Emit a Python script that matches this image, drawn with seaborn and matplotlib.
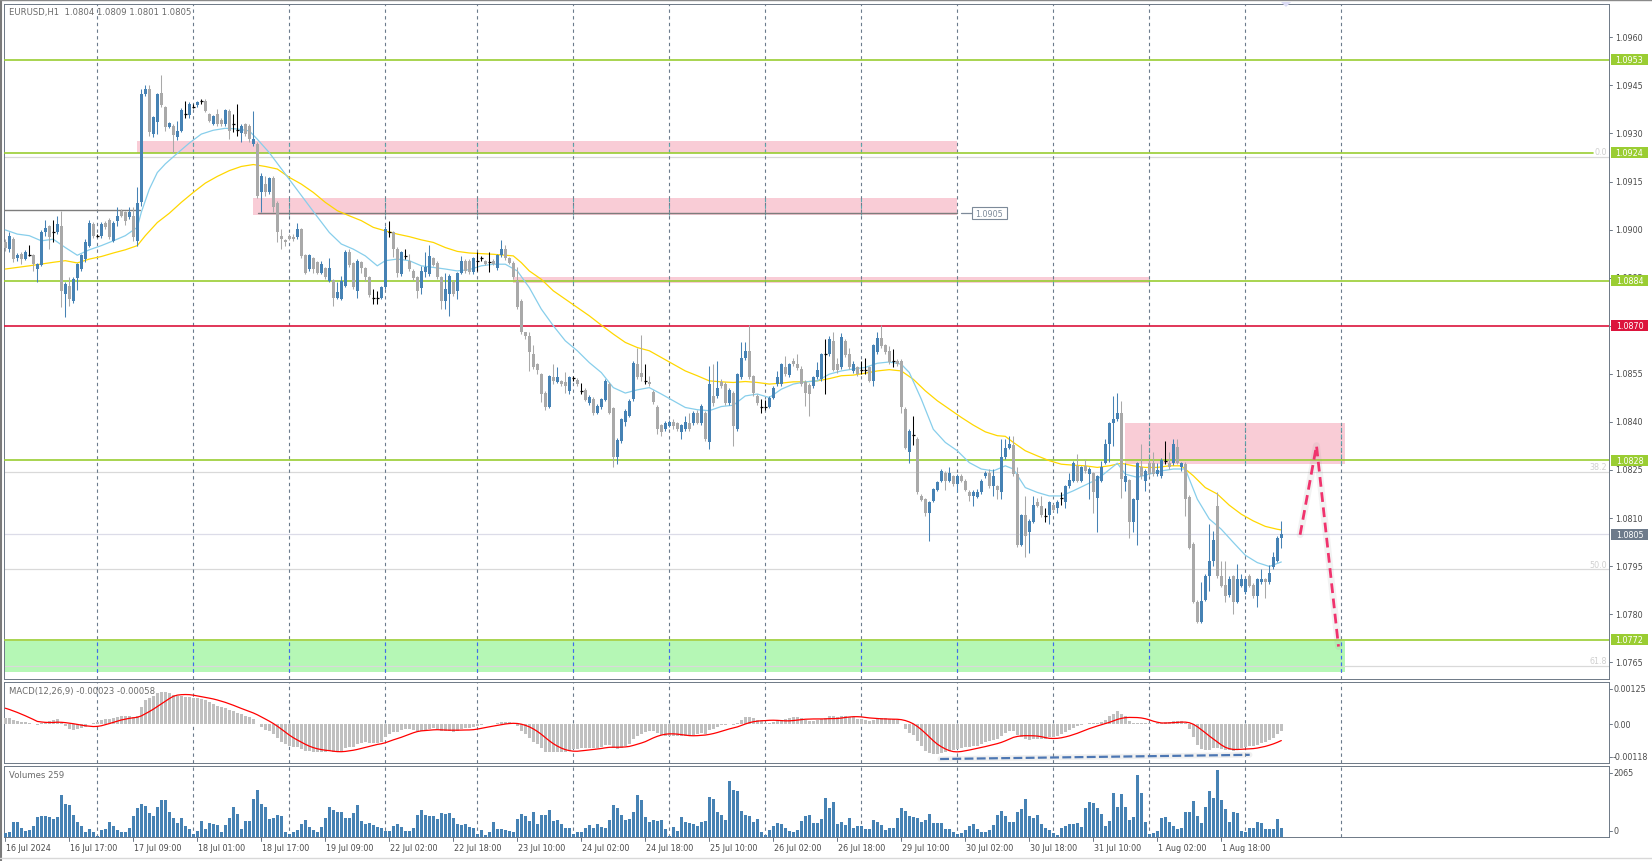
import numpy as np
import pandas as pd
import matplotlib
matplotlib.use("Agg")
import matplotlib.pyplot as plt
import matplotlib.transforms as mtransforms
from matplotlib.patches import Rectangle, Polygon
import seaborn as sns

# ---------------- data (EURUSD H1) ----------------
bar_start = -23          # first visible bar; bar 0 = 17 Jul 00:00

opens = [
    1.08962, 1.08939, 1.08970, 1.08910, 1.08924, 1.08908, 1.08920, 1.08920, 1.08877, 1.08889,
    1.08991, 1.09012, 1.08991, 1.08991, 1.09012, 1.08799, 1.08825, 1.08778, 1.08848, 1.08877,
    1.08908, 1.08950, 1.09019, 1.08981, 1.08979, 1.09022, 1.09030, 1.08965, 1.09026, 1.09059,
    1.09054, 1.09038, 1.09043, 1.08965, 1.09085, 1.09423, 1.09440, 1.09298, 1.09336, 1.09425,
    1.09381, 1.09321, 1.09324, 1.09288, 1.09308, 1.09360, 1.09357, 1.09381, 1.09388, 1.09400,
    1.09402, 1.09360, 1.09329, 1.09360, 1.09342, 1.09329, 1.09371, 1.09330, 1.09310, 1.09301,
    1.09329, 1.09324, 1.09267, 1.09267, 1.09118, 1.09142, 1.09118, 1.09161, 1.09083, 1.08981,
    1.08968, 1.08981, 1.08978, 1.08976, 1.09002, 1.08920, 1.08877, 1.08910, 1.08898, 1.08866,
    1.08879, 1.08840, 1.08842, 1.08788, 1.08785, 1.08825, 1.08931, 1.08895, 1.08809, 1.08900,
    1.08879, 1.08851, 1.08788, 1.08788, 1.08788, 1.08822, 1.08991, 1.08991, 1.08941, 1.08861,
    1.08918, 1.08903, 1.08872, 1.08851, 1.08819, 1.08868, 1.08861, 1.08910, 1.08897, 1.08851,
    1.08778, 1.08799, 1.08837, 1.08809, 1.08866, 1.08903, 1.08903, 1.08868, 1.08901, 1.08910,
    1.08903, 1.08899, 1.08903, 1.08879, 1.08920, 1.08941, 1.08910, 1.08897, 1.08840, 1.08778,
    1.08679, 1.08669, 1.08611, 1.08580, 1.08549, 1.08490, 1.08448, 1.08539, 1.08525, 1.08528,
    1.08523, 1.08497, 1.08537, 1.08532, 1.08497, 1.08500, 1.08459, 1.08473, 1.08429, 1.08445,
    1.08469, 1.08518, 1.08442, 1.08290, 1.08341, 1.08400, 1.08419, 1.08471, 1.08580, 1.08552,
    1.08528, 1.08523, 1.08494, 1.08448, 1.08390, 1.08377, 1.08388, 1.08400, 1.08396, 1.08367,
    1.08377, 1.08396, 1.08396, 1.08429, 1.08396, 1.08429, 1.08338, 1.08481, 1.08481, 1.08525,
    1.08518, 1.08459, 1.08490, 1.08377, 1.08539, 1.08598, 1.08622, 1.08542, 1.08481, 1.08448,
    1.08448, 1.08448, 1.08476, 1.08518, 1.08518, 1.08570, 1.08546, 1.08589, 1.08580, 1.08565,
    1.08525, 1.08515, 1.08511, 1.08539, 1.08533, 1.08611, 1.08611, 1.08653, 1.08580, 1.08570,
    1.08653, 1.08611, 1.08559, 1.08570, 1.08561, 1.08561, 1.08570, 1.08528, 1.08617, 1.08663,
    1.08639, 1.08622, 1.08589, 1.08591, 1.08591, 1.08440, 1.08307, 1.08359, 1.08348, 1.08169,
    1.08159, 1.08117, 1.08154, 1.08188, 1.08216, 1.08242, 1.08216, 1.08230, 1.08206, 1.08232,
    1.08216, 1.08182, 1.08169, 1.08167, 1.08180, 1.08230, 1.08240, 1.08199, 1.08199, 1.08180,
    1.08289, 1.08320, 1.08327, 1.08237, 1.08017, 1.08109, 1.08057, 1.08088, 1.08149, 1.08138,
    1.08107, 1.08109, 1.08140, 1.08130, 1.08161, 1.08149, 1.08199, 1.08216, 1.08261, 1.08216,
    1.08263, 1.08237, 1.08240, 1.08164, 1.08216, 1.08273, 1.08331, 1.08398, 1.08409, 1.08429,
    1.08213, 1.08218, 1.08088, 1.08157, 1.08258, 1.08216, 1.08271, 1.08271, 1.08237, 1.08230,
    1.08277, 1.08271, 1.08271, 1.08322, 1.08258, 1.08270, 1.08167, 1.08019, 1.07839, 1.07776,
    1.07845, 1.07920, 1.07967, 1.08138, 1.07918, 1.07891, 1.07859, 1.07918, 1.07839, 1.07889,
    1.07868, 1.07918, 1.07891, 1.07857, 1.07899, 1.07909, 1.07899, 1.07946, 1.07967, 1.08039,
]
highs = [
    1.08970, 1.08991, 1.08976, 1.08926, 1.08930, 1.08936, 1.08952, 1.08925, 1.08896, 1.08998,
    1.09030, 1.09015, 1.09030, 1.09043, 1.09059, 1.08835, 1.08851, 1.08851, 1.08896, 1.08925,
    1.08970, 1.09030, 1.09025, 1.08985, 1.09025, 1.09028, 1.09035, 1.09028, 1.09069, 1.09065,
    1.09058, 1.09069, 1.09069, 1.09134, 1.09440, 1.09451, 1.09451, 1.09355, 1.09425, 1.09482,
    1.09386, 1.09336, 1.09328, 1.09340, 1.09378, 1.09402, 1.09399, 1.09392, 1.09402, 1.09409,
    1.09406, 1.09365, 1.09358, 1.09376, 1.09347, 1.09376, 1.09376, 1.09360, 1.09392, 1.09328,
    1.09334, 1.09328, 1.09371, 1.09272, 1.09178, 1.09168, 1.09165, 1.09168, 1.09088, 1.09002,
    1.08972, 1.08985, 1.08985, 1.09020, 1.09006, 1.08924, 1.08925, 1.08915, 1.08903, 1.08903,
    1.08884, 1.08910, 1.08846, 1.08835, 1.08856, 1.08936, 1.08939, 1.08900, 1.08908, 1.08903,
    1.08884, 1.08856, 1.08816, 1.08809, 1.08825, 1.09010, 1.09028, 1.08996, 1.08946, 1.08934,
    1.08941, 1.08924, 1.08877, 1.08856, 1.08887, 1.08929, 1.08951, 1.08915, 1.08902, 1.08856,
    1.08864, 1.08861, 1.08842, 1.08868, 1.08918, 1.08907, 1.08908, 1.08915, 1.08929, 1.08918,
    1.08906, 1.08929, 1.08907, 1.08925, 1.08968, 1.08951, 1.08914, 1.08901, 1.08882, 1.08783,
    1.08681, 1.08681, 1.08639, 1.08585, 1.08553, 1.08495, 1.08547, 1.08580, 1.08570, 1.08532,
    1.08556, 1.08544, 1.08544, 1.08537, 1.08521, 1.08505, 1.08484, 1.08478, 1.08455, 1.08476,
    1.08533, 1.08523, 1.08447, 1.08350, 1.08412, 1.08440, 1.08470, 1.08591, 1.08632, 1.08671,
    1.08580, 1.08544, 1.08499, 1.08453, 1.08395, 1.08403, 1.08405, 1.08409, 1.08401, 1.08395,
    1.08419, 1.08429, 1.08435, 1.08438, 1.08455, 1.08434, 1.08575, 1.08580, 1.08591, 1.08533,
    1.08523, 1.08505, 1.08495, 1.08554, 1.08650, 1.08650, 1.08702, 1.08547, 1.08486, 1.08471,
    1.08469, 1.08481, 1.08512, 1.08559, 1.08585, 1.08606, 1.08585, 1.08598, 1.08611, 1.08575,
    1.08530, 1.08520, 1.08544, 1.08587, 1.08616, 1.08660, 1.08669, 1.08679, 1.08598, 1.08676,
    1.08658, 1.08632, 1.08591, 1.08575, 1.08591, 1.08598, 1.08575, 1.08644, 1.08679, 1.08702,
    1.08644, 1.08637, 1.08629, 1.08595, 1.08595, 1.08445, 1.08377, 1.08419, 1.08353, 1.08174,
    1.08164, 1.08154, 1.08195, 1.08216, 1.08253, 1.08247, 1.08258, 1.08235, 1.08237, 1.08237,
    1.08221, 1.08187, 1.08187, 1.08190, 1.08221, 1.08247, 1.08253, 1.08253, 1.08204, 1.08348,
    1.08348, 1.08357, 1.08357, 1.08258, 1.08114, 1.08169, 1.08096, 1.08169, 1.08161, 1.08169,
    1.08130, 1.08154, 1.08145, 1.08156, 1.08180, 1.08204, 1.08242, 1.08279, 1.08299, 1.08263,
    1.08284, 1.08258, 1.08245, 1.08235, 1.08279, 1.08348, 1.08400, 1.08481, 1.08489, 1.08466,
    1.08273, 1.08223, 1.08164, 1.08276, 1.08331, 1.08252, 1.08284, 1.08307, 1.08273, 1.08286,
    1.08339, 1.08305, 1.08348, 1.08348, 1.08276, 1.08275, 1.08172, 1.08024, 1.07844, 1.07899,
    1.07925, 1.08081, 1.08060, 1.08180, 1.07967, 1.07967, 1.07920, 1.07923, 1.07956, 1.07925,
    1.07914, 1.07925, 1.07896, 1.07914, 1.07941, 1.07914, 1.07953, 1.07993, 1.08044, 1.08091,
]
lows = [
    1.08934, 1.08929, 1.08898, 1.08902, 1.08892, 1.08904, 1.08917, 1.08872, 1.08837, 1.08885,
    1.08981, 1.08941, 1.08960, 1.08985, 1.08760, 1.08726, 1.08762, 1.08770, 1.08812, 1.08870,
    1.08898, 1.08945, 1.08975, 1.08978, 1.08975, 1.09003, 1.08972, 1.08960, 1.09012, 1.09038,
    1.09014, 1.09034, 1.08965, 1.08950, 1.09074, 1.09418, 1.09293, 1.09290, 1.09298, 1.09381,
    1.09308, 1.09316, 1.09239, 1.09279, 1.09303, 1.09347, 1.09347, 1.09379, 1.09384, 1.09392,
    1.09366, 1.09335, 1.09325, 1.09324, 1.09324, 1.09324, 1.09282, 1.09305, 1.09293, 1.09272,
    1.09292, 1.09272, 1.09262, 1.09100, 1.09054, 1.09106, 1.09112, 1.09054, 1.08960, 1.08939,
    1.08950, 1.08966, 1.08965, 1.08970, 1.08912, 1.08860, 1.08870, 1.08866, 1.08860, 1.08860,
    1.08846, 1.08835, 1.08762, 1.08783, 1.08780, 1.08820, 1.08884, 1.08814, 1.08788, 1.08866,
    1.08840, 1.08790, 1.08768, 1.08768, 1.08783, 1.08815, 1.08976, 1.08913, 1.08851, 1.08856,
    1.08908, 1.08872, 1.08843, 1.08788, 1.08799, 1.08851, 1.08855, 1.08885, 1.08846, 1.08752,
    1.08752, 1.08731, 1.08794, 1.08783, 1.08860, 1.08866, 1.08863, 1.08863, 1.08871, 1.08903,
    1.08888, 1.08868, 1.08888, 1.08874, 1.08916, 1.08905, 1.08893, 1.08846, 1.08752, 1.08674,
    1.08660, 1.08559, 1.08565, 1.08549, 1.08461, 1.08438, 1.08443, 1.08518, 1.08520, 1.08513,
    1.08490, 1.08487, 1.08528, 1.08513, 1.08487, 1.08464, 1.08454, 1.08421, 1.08424, 1.08440,
    1.08464, 1.08424, 1.08258, 1.08270, 1.08335, 1.08388, 1.08414, 1.08466, 1.08533, 1.08528,
    1.08518, 1.08513, 1.08456, 1.08362, 1.08357, 1.08372, 1.08383, 1.08377, 1.08372, 1.08348,
    1.08372, 1.08372, 1.08391, 1.08393, 1.08391, 1.08341, 1.08315, 1.08450, 1.08476, 1.08507,
    1.08454, 1.08454, 1.08325, 1.08372, 1.08534, 1.08593, 1.08534, 1.08481, 1.08454, 1.08429,
    1.08438, 1.08443, 1.08471, 1.08513, 1.08513, 1.08544, 1.08541, 1.08575, 1.08562, 1.08513,
    1.08450, 1.08419, 1.08507, 1.08534, 1.08528, 1.08487, 1.08606, 1.08558, 1.08554, 1.08565,
    1.08604, 1.08565, 1.08554, 1.08544, 1.08549, 1.08549, 1.08523, 1.08511, 1.08612, 1.08632,
    1.08612, 1.08582, 1.08570, 1.08575, 1.08429, 1.08315, 1.08273, 1.08327, 1.08175, 1.08152,
    1.08107, 1.08029, 1.08149, 1.08183, 1.08211, 1.08188, 1.08211, 1.08201, 1.08182, 1.08211,
    1.08183, 1.08154, 1.08138, 1.08162, 1.08175, 1.08225, 1.08194, 1.08169, 1.08159, 1.08159,
    1.08284, 1.08315, 1.08232, 1.08010, 1.08012, 1.07977, 1.07991, 1.08083, 1.08133, 1.08104,
    1.08088, 1.08081, 1.08121, 1.08117, 1.08140, 1.08130, 1.08194, 1.08211, 1.08211, 1.08211,
    1.08242, 1.08159, 1.08117, 1.08057, 1.08211, 1.08268, 1.08274, 1.08326, 1.08404, 1.08164,
    1.08185, 1.08039, 1.08055, 1.08015, 1.08221, 1.08185, 1.08232, 1.08232, 1.08232, 1.08225,
    1.08268, 1.08253, 1.08266, 1.08268, 1.08247, 1.08107, 1.08003, 1.07834, 1.07771, 1.07771,
    1.07840, 1.07873, 1.07951, 1.07913, 1.07884, 1.07837, 1.07854, 1.07800, 1.07834, 1.07884,
    1.07863, 1.07884, 1.07852, 1.07821, 1.07894, 1.07852, 1.07894, 1.07941, 1.07962, 1.08008,
]
closes = [
    1.08944, 1.08981, 1.08908, 1.08920, 1.08908, 1.08931, 1.08920, 1.08892, 1.08892, 1.08993,
    1.09004, 1.08978, 1.08991, 1.09019, 1.08809, 1.08830, 1.08785, 1.08846, 1.08892, 1.08920,
    1.08960, 1.09022, 1.08981, 1.08981, 1.09019, 1.09007, 1.08978, 1.09022, 1.09043, 1.09043,
    1.09028, 1.09054, 1.08978, 1.09082, 1.09423, 1.09440, 1.09303, 1.09350, 1.09423, 1.09388,
    1.09321, 1.09332, 1.09295, 1.09308, 1.09373, 1.09360, 1.09392, 1.09381, 1.09399, 1.09400,
    1.09371, 1.09340, 1.09353, 1.09329, 1.09329, 1.09373, 1.09308, 1.09330, 1.09310, 1.09324,
    1.09298, 1.09282, 1.09282, 1.09106, 1.09168, 1.09118, 1.09161, 1.09069, 1.08991, 1.08970,
    1.08960, 1.08970, 1.08970, 1.09002, 1.08918, 1.08866, 1.08920, 1.08877, 1.08866, 1.08892,
    1.08851, 1.08879, 1.08788, 1.08804, 1.08840, 1.08931, 1.08889, 1.08820, 1.08903, 1.08879,
    1.08851, 1.08795, 1.08788, 1.08788, 1.08820, 1.09002, 1.08991, 1.08939, 1.08866, 1.08929,
    1.08918, 1.08877, 1.08848, 1.08809, 1.08871, 1.08882, 1.08918, 1.08889, 1.08851, 1.08778,
    1.08814, 1.08854, 1.08799, 1.08864, 1.08903, 1.08871, 1.08868, 1.08910, 1.08901, 1.08910,
    1.08892, 1.08899, 1.08892, 1.08920, 1.08941, 1.08910, 1.08897, 1.08851, 1.08760, 1.08679,
    1.08669, 1.08617, 1.08570, 1.08563, 1.08487, 1.08445, 1.08542, 1.08528, 1.08539, 1.08518,
    1.08513, 1.08539, 1.08537, 1.08518, 1.08497, 1.08469, 1.08479, 1.08429, 1.08450, 1.08471,
    1.08528, 1.08429, 1.08290, 1.08345, 1.08409, 1.08435, 1.08466, 1.08585, 1.08539, 1.08539,
    1.08528, 1.08518, 1.08461, 1.08377, 1.08367, 1.08398, 1.08400, 1.08388, 1.08377, 1.08390,
    1.08400, 1.08377, 1.08429, 1.08398, 1.08450, 1.08346, 1.08518, 1.08459, 1.08507, 1.08513,
    1.08459, 1.08500, 1.08388, 1.08549, 1.08598, 1.08622, 1.08539, 1.08490, 1.08459, 1.08448,
    1.08448, 1.08476, 1.08507, 1.08539, 1.08580, 1.08549, 1.08580, 1.08580, 1.08567, 1.08518,
    1.08490, 1.08487, 1.08539, 1.08563, 1.08611, 1.08611, 1.08660, 1.08563, 1.08563, 1.08665,
    1.08609, 1.08572, 1.08580, 1.08549, 1.08561, 1.08561, 1.08528, 1.08639, 1.08663, 1.08637,
    1.08617, 1.08587, 1.08589, 1.08580, 1.08448, 1.08320, 1.08372, 1.08359, 1.08180, 1.08157,
    1.08117, 1.08149, 1.08190, 1.08211, 1.08247, 1.08216, 1.08242, 1.08206, 1.08232, 1.08216,
    1.08188, 1.08169, 1.08182, 1.08182, 1.08216, 1.08242, 1.08199, 1.08232, 1.08188, 1.08289,
    1.08320, 1.08331, 1.08237, 1.08015, 1.08109, 1.08045, 1.08091, 1.08140, 1.08138, 1.08109,
    1.08107, 1.08149, 1.08126, 1.08151, 1.08161, 1.08199, 1.08219, 1.08271, 1.08216, 1.08258,
    1.08247, 1.08253, 1.08180, 1.08230, 1.08258, 1.08331, 1.08398, 1.08409, 1.08429, 1.08221,
    1.08230, 1.08088, 1.08159, 1.08271, 1.08230, 1.08247, 1.08237, 1.08237, 1.08251, 1.08281,
    1.08277, 1.08258, 1.08331, 1.08273, 1.08271, 1.08159, 1.08008, 1.07839, 1.07776, 1.07842,
    1.07920, 1.07967, 1.08032, 1.07918, 1.07889, 1.07857, 1.07909, 1.07839, 1.07911, 1.07909,
    1.07909, 1.07889, 1.07857, 1.07909, 1.07909, 1.07899, 1.07928, 1.07977, 1.08039, 1.08050,
]
volumes = [
    100,
    134, 443, 443, 258, 185, 206, 319, 597, 639, 649,
    597, 546, 597, 1288, 1009, 979, 670, 464, 340, 134,
    237, 134, 20, 206, 237, 443, 319, 216, 155, 134,
    268, 649, 876, 1009, 937, 731, 649, 927, 1133, 1133,
    773, 567, 422, 567, 340, 237, 82, 185, 474, 237,
    422, 391, 361, 134, 371, 577, 927, 700, 237, 494,
    494, 1164, 1442, 1009, 906, 546, 567, 670, 649, 134,
    82, 134, 216, 391, 515, 288, 206, 134, 309, 577,
    927, 824, 773, 773, 577, 567, 731, 979, 494, 391,
    422, 361, 288, 258, 185, 185, 340, 391, 288, 165,
    185, 268, 670, 824, 680, 649, 649, 546, 731, 700,
    731, 577, 391, 361, 391, 288, 258, 82, 216, 62,
    134, 464, 237, 237, 206, 165, 155, 546, 700, 649,
    494, 773, 391, 680, 680, 824, 494, 525, 391,
    258, 258, 82, 155, 134, 258, 361, 258, 391,
    309, 258, 525, 979, 896, 670, 525, 546, 752, 1288,
    1133, 597, 464, 515, 494, 515, 237, 20, 309, 185,
    618, 443, 422, 391, 340, 464, 484, 1236, 1164, 773,
    670, 515, 1720, 1442, 1411, 793, 670, 649, 443, 546,
    155, 62, 206, 340, 422, 391, 278, 175, 155, 206,
    484, 649, 670, 422, 422, 546, 1205, 896, 1082, 391,
    464, 361, 587, 258, 340, 340, 237, 237, 515, 464,
    361, 206, 268, 268, 577, 896, 803, 649, 618, 577,
    464, 525, 700, 412, 422, 422, 237, 237, 134, 72,
    113, 216, 319, 391, 237, 134, 134, 206, 361, 680,
    793, 649, 443, 464, 773, 855, 1164, 649, 567, 670,
    391, 268, 206, 103, 52, 258, 319, 381, 381, 422,
    288, 886, 1082, 1030, 876,
    700, 340, 494, 1349, 927, 1318, 927, 525, 618, 1885,
    1349, 443, 82, 113, 185, 577, 618, 443, 319, 237,
    268, 752, 752, 1092, 649, 422, 927, 1411, 1205, 2065,
    1133, 855, 443, 773, 731, 175, 155, 268, 268, 443,
    412, 237, 237, 237, 546, 259,
]

# moving averages (bar index, price)
ma_fast_bars = [-23, -20, -17, -14, -11, -8, -5, -2, 1, 4, 7, 10, 11, 13, 15, 17, 20, 23, 26, 29,
                32, 35, 38, 40, 43, 46, 49, 52, 55, 58, 61, 64, 67, 70, 72, 75, 78, 81, 84, 87,
                90, 93, 96, 99, 102, 105, 108, 111, 114, 117, 120, 123, 126, 129, 132, 135, 138, 141, 144, 147,
                150, 153, 156, 159, 162, 165, 168, 171, 174, 177, 180, 183, 186, 189, 192, 195, 198, 201, 203, 206,
                209, 212, 215, 218, 221, 224, 227, 229, 232, 235, 238, 241, 244, 247, 250, 253, 255, 257, 260, 263,
                266, 269, 272, 275, 278, 281, 284, 287, 290, 293, 296]
ma_fast_vals = [1.08999, 1.08986, 1.08981, 1.08965, 1.08970, 1.08944, 1.08920, 1.08937, 1.08950, 1.08965,
                1.08981, 1.09007, 1.09054, 1.09126, 1.09178, 1.09205, 1.09238, 1.09270, 1.09298, 1.09310,
                1.09316, 1.09314, 1.09308, 1.09282, 1.09240, 1.09190, 1.09140, 1.09090, 1.09040, 1.08991,
                1.08955, 1.08939, 1.08918, 1.08887, 1.08903, 1.08908, 1.08903, 1.08887, 1.08882, 1.08877,
                1.08871, 1.08875, 1.08887, 1.08892, 1.08892, 1.08871, 1.08819, 1.08752, 1.08700, 1.08653,
                1.08622, 1.08585, 1.08554, 1.08507, 1.08490, 1.08500, 1.08507, 1.08487, 1.08466, 1.08445,
                1.08438, 1.08435, 1.08448, 1.08452, 1.08481, 1.08487, 1.08476, 1.08502, 1.08518, 1.08525,
                1.08528, 1.08549, 1.08559, 1.08565, 1.08570, 1.08583, 1.08587, 1.08580, 1.08554, 1.08471,
                1.08377, 1.08336, 1.08310, 1.08273, 1.08253, 1.08247, 1.08263, 1.08253, 1.08195, 1.08180,
                1.08169, 1.08169, 1.08185, 1.08203, 1.08221, 1.08251, 1.08271, 1.08237, 1.08227, 1.08237,
                1.08247, 1.08253, 1.08253, 1.08159, 1.08097, 1.08065, 1.08024, 1.07984, 1.07961, 1.07949,
                1.07963]
ma_slow_bars = [-23, -17, -11, -8, -5, -2, 1, 4, 7, 10, 12, 15, 18, 21, 24, 27, 30, 33, 36, 39,
                42, 45, 48, 51, 54, 57, 60, 63, 66, 69, 72, 75, 78, 81, 84, 87, 90, 93, 96, 99,
                102, 104, 106, 108, 111, 114, 117, 120, 123, 126, 129, 132, 135, 138, 141, 144, 147, 150, 153, 156,
                159, 162, 165, 168, 171, 174, 177, 180, 183, 186, 189, 192, 195, 198, 201, 204, 207, 210, 213, 216,
                219, 222, 225, 227, 229, 232, 235, 238, 241, 244, 247, 250, 253, 256, 259, 262, 265, 268, 271, 274,
                277, 280, 283, 286, 289, 292, 295, 296]
ma_slow_vals = [1.08877, 1.08887, 1.08898, 1.08903, 1.08896, 1.08908, 1.08916, 1.08927, 1.08937, 1.08950,
                1.08981, 1.09022, 1.09051, 1.09085, 1.09116, 1.09145, 1.09166, 1.09184, 1.09197, 1.09203,
                1.09197, 1.09189, 1.09163, 1.09142, 1.09116, 1.09085, 1.09059, 1.09043, 1.09028, 1.09007,
                1.08996, 1.08986, 1.08978, 1.08968, 1.08960, 1.08944, 1.08932, 1.08927, 1.08925, 1.08923,
                1.08920, 1.08918, 1.08897, 1.08871, 1.08845, 1.08809, 1.08783, 1.08757, 1.08731, 1.08702,
                1.08674, 1.08648, 1.08632, 1.08622, 1.08601, 1.08580, 1.08559, 1.08544, 1.08528, 1.08525,
                1.08523, 1.08526, 1.08523, 1.08518, 1.08521, 1.08525, 1.08525, 1.08528, 1.08535, 1.08544,
                1.08546, 1.08552, 1.08559, 1.08563, 1.08559, 1.08533, 1.08497, 1.08466, 1.08440, 1.08414,
                1.08390, 1.08369, 1.08357, 1.08355, 1.08336, 1.08310, 1.08294, 1.08279, 1.08268, 1.08265,
                1.08263, 1.08258, 1.08263, 1.08271, 1.08263, 1.08258, 1.08258, 1.08263, 1.08263, 1.08232,
                1.08195, 1.08175, 1.08140, 1.08112, 1.08091, 1.08074, 1.08065, 1.08063]

# MACD(12,26,9) values on the first visible bar
macd_first = 0.00024
signal_first = 0.00062

# chart objects
green_levels = [1.0953, 1.0924, 1.0884, 1.0828, 1.0772]
red_level = 1.0870
last_price = 1.0805
fib_names = ["0.0", "38.2", "50.0", "61.8"]
fib_prices = [1.09227, 1.08243, 1.07941, 1.07638]
pink_zones = [(9.9, 214.9, 1.09238, 1.09276), (38.9, 214.9, 1.09047, 1.09099),
              (104.0, 263.0, 1.08832, 1.08851), (256.9, 311.8, 1.08269, 1.08396)]
green_zone = (-23.4, 311.8, 1.07621, 1.07716)
gray_lines = [(-23.4, 10.7, 1.09061), (40.1, 214.9, 1.09051)]
arrow_bars = [300.7, 304.8, 310.3]
arrow_prices = [1.08048, 1.08326, 1.07699]
div_bars = [210.7, 288.1]
div_vals = [-0.00124, -0.00109]

price_ticks = [1.0960, 1.0945, 1.0930, 1.0915, 1.0900, 1.0885, 1.0870, 1.0855,
               1.0840, 1.0825, 1.0810, 1.0795, 1.0780, 1.0765]
grid_bars = [0, 24, 48, 72, 95, 119, 143, 167, 191, 215, 239, 263, 287, 311]
time_labels = ["16 Jul 2024", "16 Jul 17:00", "17 Jul 09:00", "18 Jul 01:00", "18 Jul 17:00",
               "19 Jul 09:00", "22 Jul 02:00", "22 Jul 18:00", "23 Jul 10:00", "24 Jul 02:00",
               "24 Jul 18:00", "25 Jul 10:00", "26 Jul 02:00", "26 Jul 18:00", "29 Jul 10:00",
               "30 Jul 02:00", "30 Jul 18:00", "31 Jul 10:00", "1 Aug 02:00", "1 Aug 18:00"]
time_label_bars = list(range(-23, 282, 16))

# ---------------- style ----------------
sns.set_style("white")
plt.rcParams["font.family"] = ["DejaVu Sans"]

BULL, BEAR, DOJI = "#4682b4", "#a9a9a9", "#000000"
FRAME = "#6d7886"
TXT = "#4b4b4b"
YG, RED = "#9acd32", "#dc143c"
FS = 5.8

W, H = 1652, 862
fig = plt.figure(figsize=(W / 100, H / 100), dpi=100)
fig.patch.set_facecolor("white")


def fx(px):
    return px / W


def fy(py):
    return 1 - py / H


L_PX, R_PX = 4, 1609
X0_PX, STEP = 97.3, 4.0
xlim = ((L_PX - X0_PX) / STEP, (R_PX - X0_PX) / STEP)
PPX = 32050.0     # price pixels per unit

ax = fig.add_axes([fx(L_PX), fy(679.5), (R_PX - L_PX) / W, 674.5 / H])
axm = fig.add_axes([fx(L_PX), fy(764), (R_PX - L_PX) / W, (764 - 683) / H])
axv = fig.add_axes([fx(L_PX), fy(837.7), (R_PX - L_PX) / W, (837.7 - 767) / H])

for a in (ax, axm, axv):
    a.set_xlim(*xlim)
    a.set_xticks([])
    a.set_yticks([])
    for s in a.spines.values():
        s.set_color(FRAME)
        s.set_linewidth(0.7)

ax.set_ylim(1.0960 - (679.5 - 38.3) / PPX, 1.0960 + (38.3 - 5) / PPX)
axm.set_ylim(-(764 - 725.3) / 28000, (725.3 - 683) / 28000)
axv.set_ylim(0, (837.7 - 767) * 30.8)

x = np.arange(bar_start, bar_start + len(closes))
o, h, l, c = (np.array(v) for v in (opens, highs, lows, closes))
h = np.maximum(h, np.maximum(o, c))
l = np.minimum(l, np.minimum(o, c))

# ---------------- price window ----------------
for x0, x1, lo, hi in pink_zones:
    ax.add_patch(Rectangle((x0, lo), x1 - x0, hi - lo, facecolor="#f9ccd6", edgecolor="none", zorder=1))
gx0, gx1, glo, ghi = green_zone
ax.add_patch(Rectangle((gx0, glo), gx1 - gx0, ghi - glo, facecolor="#b5f7b5", edgecolor="none", zorder=1))

for p in fib_prices:
    ax.axhline(p, color="#d9d9d9", lw=0.9, zorder=1.5)
ax.axhline(last_price, color="#dcdce8", lw=0.9, zorder=1.5)

dash = (0, (3, 3))
for b in grid_bars:
    for a in (ax, axm, axv):
        a.axvline(b, color="#6b7b8c", lw=0.8, ls=dash, zorder=2)
    if b <= gx1:
        ax.vlines(b, glo, ghi, color="#3b6cf5", lw=0.8, ls=dash, zorder=2.1)
    for x0, x1, lo, hi in pink_zones:
        if x0 <= b <= x1:
            ax.vlines(b, lo, hi, color="#5aa6ad", lw=0.8, ls=dash, zorder=2.1)

for p in green_levels:
    xmax = 1.0 if p != 1.0924 else (1593 - L_PX) / (R_PX - L_PX)
    ax.axhline(p, xmax=xmax, color=YG, lw=1.2, zorder=3)
ax.axhline(red_level, color=RED, lw=1.2, zorder=3)

for x0, x1, p in gray_lines:
    ax.plot([x0, x1], [p, p], color="#7d7d7d", lw=1.0, zorder=3)
ax.plot([216.0, 218.6], [1.09051, 1.09051], color="#7d8a99", lw=0.9, zorder=3)
ax.add_patch(Rectangle((218.6, 1.09051 - 6 / PPX), 8.8, 12 / PPX, facecolor="white",
                       edgecolor="#7d8a99", lw=0.8, zorder=3))
ax.text(223.0, 1.09051, "1.0905", fontsize=FS, color="#7d8a99", ha="center", va="center", zorder=4)

sns.lineplot(x=ma_slow_bars, y=ma_slow_vals, ax=ax, color="#ffd700", lw=0.9, zorder=4)
sns.lineplot(x=ma_fast_bars, y=ma_fast_vals, ax=ax, color="#87ceeb", lw=0.9, zorder=4)

up, dn, dj = c > o, c < o, c == o
for m, col in ((up, BULL), (dn, BEAR), (dj, DOJI)):
    ax.vlines(x[m], l[m], h[m], color=col, lw=0.75, zorder=5)
ax.bar(x[up], np.maximum(c[up] - o[up], 2e-5), bottom=o[up], width=0.75, color=BULL, lw=0, zorder=6)
ax.bar(x[dn], np.maximum(o[dn] - c[dn], 2e-5), bottom=c[dn], width=0.75, color=BEAR, lw=0, zorder=6)
ax.hlines(c[dj], x[dj] - 0.45, x[dj] + 0.45, color=DOJI, lw=0.9, zorder=6)

# forecast arrow
ax.plot(arrow_bars, arrow_prices, color="#999999", lw=5, alpha=0.12, zorder=7, solid_capstyle="round")
ax.plot(arrow_bars, arrow_prices, color="#f0336d", lw=2.0, ls=(0, (3.5, 2)), zorder=8)

# price scale
bl = mtransforms.blended_transform_factory(fig.transFigure, ax.transData)
for p in price_ticks:
    ax.plot([fx(R_PX), fx(R_PX + 3)], [p, p], transform=bl, color=FRAME, lw=0.7, clip_on=False)
    ax.text(fx(1615), p, f"{p:.4f}", transform=bl, fontsize=FS, color=TXT, va="center", ha="left",
            clip_on=False)
for p, col in [(1.0953, YG), (1.0924, YG), (1.0884, YG), (red_level, RED), (1.0828, YG),
               (last_price, "#6e7b8b"), (1.0772, YG)]:
    ax.add_patch(Rectangle((fx(1611), p - 5.5 / PPX), fx(37), 11 / PPX, transform=bl, facecolor=col,
                           edgecolor="none", clip_on=False, zorder=10))
    ax.text(fx(1629.5), p, f"{p:.4f}", transform=bl, fontsize=FS, color="white", va="center",
            ha="center", clip_on=False, zorder=11)
for name, p, dy in zip(fib_names, fib_prices, [5, 6, 5, 6]):
    ax.text(fx(1607), p + dy / PPX, name, transform=bl, fontsize=FS, color="#d0d0d0", va="center",
            ha="right", clip_on=False)

# ---------------- MACD window ----------------
a_fast, a_slow = 2 / 13, 2 / 27
ef = closes[0] + macd_first / 2
es = closes[0] - macd_first / 2
macd = []
for cv in closes:
    ef += a_fast * (cv - ef)
    es += a_slow * (cv - es)
    macd.append(ef - es)
macd = np.array(macd)
signal = pd.Series(np.r_[np.full(8, signal_first), macd]).rolling(9).mean().to_numpy()[8:]

axm.bar(x, macd, width=0.75, color="#c0c0c0", lw=0, zorder=3)
sns.lineplot(x=x, y=signal, ax=axm, color="#ff0000", lw=0.9, zorder=4)
axm.plot(div_bars, div_vals, color="#888888", lw=4, alpha=0.12, zorder=5)
axm.plot(div_bars, div_vals, color="#4d77b3", lw=1.6, ls=(0, (4, 1.5)), zorder=6)

# ---------------- volume window ----------------
axv.bar(x, volumes, width=0.75, color=BULL, lw=0, zorder=3)

# sub-window scales
for txt, ypx in [("0.00125", 690), ("0.00", 725.3), ("-0.00118", 757.5), ("2065", 773.7), ("0", 832)]:
    fig.text(fx(1613), fy(ypx), txt, fontsize=FS, color=TXT, va="center", ha="left")
    fig.add_artist(plt.Line2D([fx(R_PX), fx(R_PX + 3)], [fy(ypx), fy(ypx)], color=FRAME, lw=0.7))

# titles
fig.text(fx(9), fy(12), "EURUSD,H1  1.0804 1.0809 1.0801 1.0805", fontsize=6.1, color="#6a6a6a",
         va="center", ha="left")
fig.text(fx(9), fy(692), "MACD(12,26,9) -0.00023 -0.00058", fontsize=6.1, color="#6a6a6a",
         va="center", ha="left")
fig.text(fx(9), fy(776), "Volumes 259", fontsize=6.1, color="#6a6a6a", va="center", ha="left")

# time axis
for lab, b in zip(time_labels, time_label_bars):
    xp = X0_PX + STEP * b
    fig.add_artist(plt.Line2D([fx(xp), fx(xp)], [fy(838), fy(842)], color=FRAME, lw=0.7))
    fig.text(fx(xp + 1), fy(848.5), lab, fontsize=FS, color=TXT, va="center", ha="left")

# window frame bits
fig.add_artist(plt.Line2D([fx(1.2), fx(1.2)], [0, 1], color="#7a7a7a", lw=1.5))
fig.add_artist(plt.Line2D([0, 1], [fy(1), fy(1)], color="#8a8a8a", lw=1.0))
fig.add_artist(plt.Line2D([0, 1], [fy(859), fy(859)], color="#d8d8d8", lw=1.0))
fig.add_artist(Polygon([[fx(1281), fy(3)], [fx(1291), fy(3)], [fx(1286), fy(8)]], closed=True,
                       transform=fig.transFigure, facecolor="#dcdcf5", edgecolor="none"))

fig.savefig("out.png", dpi=100)
